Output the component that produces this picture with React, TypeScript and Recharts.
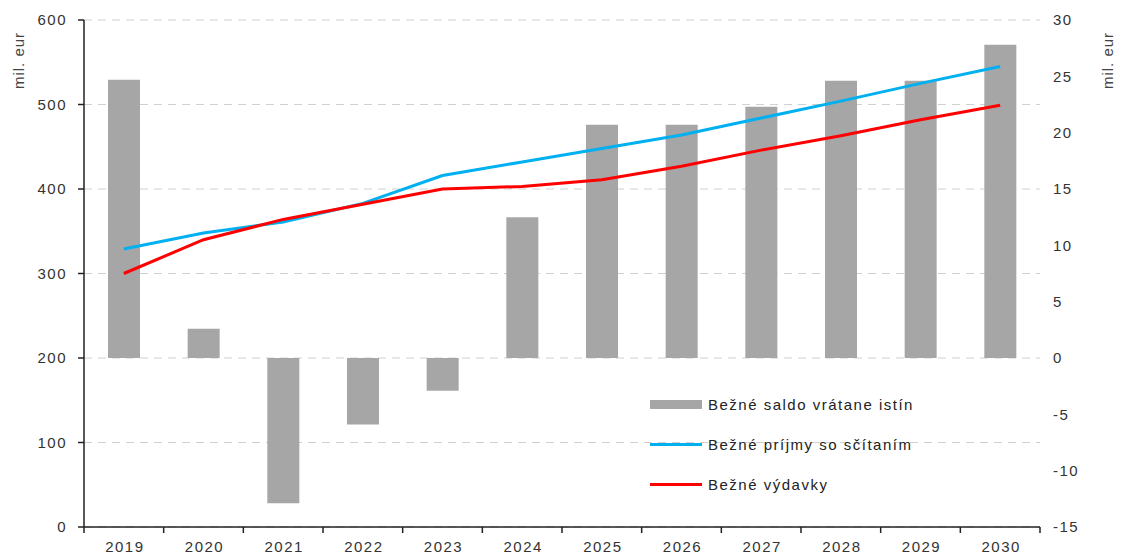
import React from "react";
import { ComposedChart, Bar, Line, XAxis, YAxis, CartesianGrid } from "recharts";

const years = ["2019", "2020", "2021", "2022", "2023", "2024", "2025", "2026", "2027", "2028", "2029", "2030"];
const saldo = [24.7, 2.6, -12.9, -5.9, -2.9, 12.5, 20.7, 20.7, 22.3, 24.6, 24.6, 27.8];
const prijmy = [329, 348, 361, 383, 416, 432, 448, 464, 484, 504, 525, 545];
const vydavky = [300, 340, 364, 382, 400, 403, 411, 427, 446, 463, 482, 499];
const leftTicks = [0, 100, 200, 300, 400, 500, 600];
const rightTicks = [-15, -10, -5, 0, 5, 10, 15, 20, 25, 30];

const NAME_SALDO = "Bežné saldo vrátane istín";
const NAME_PRIJMY = "Bežné príjmy so sčítaním";
const NAME_VYDAVKY = "Bežné výdavky";

const data = years.map((y, i) => ({ year: y, saldo: saldo[i], prijmy: prijmy[i], vydavky: vydavky[i] }));

const FONT = "'Liberation Sans', Arial, sans-serif";
const tickStyle = { fill: "#333", fontSize: 15, fontFamily: FONT, letterSpacing: 1.5 };

// category label plus tick marks on the band boundaries
function YearTick(props: any) {
  const { x, y, payload, index, width, visibleTicksCount } = props;
  const half = width / visibleTicksCount / 2;
  const axisY = y - 14;
  const last = index === visibleTicksCount - 1;
  return (
    <g>
      <line x1={x - half} x2={x - half} y1={axisY} y2={axisY + 6} stroke="#222" strokeWidth={1.5} />
      {last && <line x1={x + half} x2={x + half} y1={axisY} y2={axisY + 6} stroke="#222" strokeWidth={1.5} />}
      <text x={x + 1} y={y} dy="0.71em" textAnchor="middle" {...tickStyle}>
        {payload.value}
      </text>
    </g>
  );
}

function LegendBox() {
  const items = [
    { name: NAME_SALDO, color: "#A6A6A6", h: 9 },
    { name: NAME_PRIJMY, color: "#00B0F0", h: 3 },
    { name: NAME_VYDAVKY, color: "#FF0000", h: 3 },
  ];
  return (
    <div style={{ position: "absolute", left: 642, top: 376, fontFamily: FONT, fontSize: 15, letterSpacing: 1.5, color: "#222" }}>
      {items.map((it) => (
        <div key={it.name} style={{ display: "flex", alignItems: "center", height: 40 }}>
          <div style={{ width: 52, height: it.h, background: it.color, marginRight: 6 }} />
          <span>{it.name}</span>
        </div>
      ))}
    </div>
  );
}

const axisLabel: React.CSSProperties = {
  position: "absolute",
  fontFamily: FONT,
  fontSize: 15,
  letterSpacing: 1,
  color: "#444",
  transform: "rotate(-90deg)",
  transformOrigin: "center",
  whiteSpace: "nowrap",
};

export default function App() {
  return (
    <div style={{ position: "relative", width: 1111, height: 552 }}>
      <ComposedChart width={1111} height={552} data={data} margin={{ top: 12, right: 19, bottom: 3, left: 0 }}>
        <CartesianGrid yAxisId="left" vertical={false} stroke="#D0D0D0" strokeDasharray="8 6" />
        <XAxis
          dataKey="year"
          height={30}
          tickSize={0}
          tickMargin={14}
          axisLine={{ stroke: "#222", strokeWidth: 1.5 }}
          tickLine={false}
          tick={<YearTick />}
          interval={0}
        />
        <YAxis
          yAxisId="left"
          width={76}
          domain={[0, 600]}
          ticks={leftTicks}
          tickSize={6}
          tickMargin={11}
          tick={tickStyle}
          axisLine={{ stroke: "#222", strokeWidth: 1.5 }}
          tickLine={{ stroke: "#222", strokeWidth: 1.5 }}
        />
        <YAxis
          yAxisId="right"
          orientation="right"
          width={60}
          domain={[-15, 30]}
          ticks={rightTicks}
          tickSize={0}
          tickMargin={13}
          tick={tickStyle}
          axisLine={false}
          tickLine={false}
        />
        <Bar yAxisId="right" dataKey="saldo" name={NAME_SALDO} fill="#A6A6A6" barSize={32} isAnimationActive={false} />
        <Line yAxisId="left" dataKey="prijmy" name={NAME_PRIJMY} stroke="#00B0F0" strokeWidth={3} dot={false} type="linear" isAnimationActive={false} />
        <Line yAxisId="left" dataKey="vydavky" name={NAME_VYDAVKY} stroke="#FF0000" strokeWidth={3} dot={false} type="linear" isAnimationActive={false} />
      </ComposedChart>
      <LegendBox />
      <div style={{ ...axisLabel, left: -18, top: 44 }}>mil. eur</div>
      <div style={{ ...axisLabel, left: 1071, top: 44 }}>mil. eur</div>
    </div>
  );
}
